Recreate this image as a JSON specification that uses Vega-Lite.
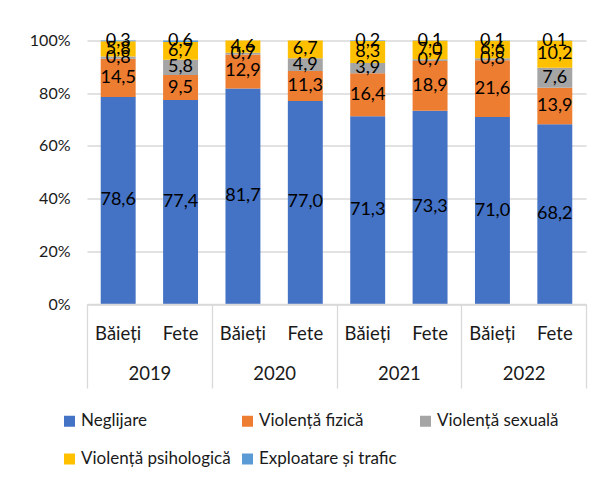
{
  "$schema": "https://vega.github.io/schema/vega-lite/v6.json",
  "autosize": {"type": "none"},
  "width": 499,
  "height": 263.5,
  "padding": {"left": 87, "top": 40.5, "right": 27, "bottom": 187},
  "background": "white",
  "config": {
    "font": "Lato",
    "view": {"stroke": null},
    "locale": {
      "number": {"decimal": ",", "thousands": ".", "grouping": [3], "currency": ["", " €"]}
    }
  },
  "data": {
    "values": [
      {"year": "2019", "gender": "Băieți", "cat": "Neglijare", "value": 78.6},
      {"year": "2019", "gender": "Băieți", "cat": "Violență fizică", "value": 14.5},
      {"year": "2019", "gender": "Băieți", "cat": "Violență sexuală", "value": 0.8},
      {"year": "2019", "gender": "Băieți", "cat": "Violență psihologică", "value": 5.8},
      {"year": "2019", "gender": "Băieți", "cat": "Exploatare și trafic", "value": 0.3},
      {"year": "2019", "gender": "Fete", "cat": "Neglijare", "value": 77.4},
      {"year": "2019", "gender": "Fete", "cat": "Violență fizică", "value": 9.5},
      {"year": "2019", "gender": "Fete", "cat": "Violență sexuală", "value": 5.8},
      {"year": "2019", "gender": "Fete", "cat": "Violență psihologică", "value": 6.7},
      {"year": "2019", "gender": "Fete", "cat": "Exploatare și trafic", "value": 0.6},
      {"year": "2020", "gender": "Băieți", "cat": "Neglijare", "value": 81.7},
      {"year": "2020", "gender": "Băieți", "cat": "Violență fizică", "value": 12.9},
      {"year": "2020", "gender": "Băieți", "cat": "Violență sexuală", "value": 0.7},
      {"year": "2020", "gender": "Băieți", "cat": "Violență psihologică", "value": 4.6},
      {"year": "2020", "gender": "Fete", "cat": "Neglijare", "value": 77.0},
      {"year": "2020", "gender": "Fete", "cat": "Violență fizică", "value": 11.3},
      {"year": "2020", "gender": "Fete", "cat": "Violență sexuală", "value": 4.9},
      {"year": "2020", "gender": "Fete", "cat": "Violență psihologică", "value": 6.7},
      {"year": "2021", "gender": "Băieți", "cat": "Neglijare", "value": 71.3},
      {"year": "2021", "gender": "Băieți", "cat": "Violență fizică", "value": 16.4},
      {"year": "2021", "gender": "Băieți", "cat": "Violență sexuală", "value": 3.9},
      {"year": "2021", "gender": "Băieți", "cat": "Violență psihologică", "value": 8.3},
      {"year": "2021", "gender": "Băieți", "cat": "Exploatare și trafic", "value": 0.2},
      {"year": "2021", "gender": "Fete", "cat": "Neglijare", "value": 73.3},
      {"year": "2021", "gender": "Fete", "cat": "Violență fizică", "value": 18.9},
      {"year": "2021", "gender": "Fete", "cat": "Violență sexuală", "value": 0.7},
      {"year": "2021", "gender": "Fete", "cat": "Violență psihologică", "value": 7.0},
      {"year": "2021", "gender": "Fete", "cat": "Exploatare și trafic", "value": 0.1},
      {"year": "2022", "gender": "Băieți", "cat": "Neglijare", "value": 71.0},
      {"year": "2022", "gender": "Băieți", "cat": "Violență fizică", "value": 21.6},
      {"year": "2022", "gender": "Băieți", "cat": "Violență sexuală", "value": 0.8},
      {"year": "2022", "gender": "Băieți", "cat": "Violență psihologică", "value": 6.6},
      {"year": "2022", "gender": "Băieți", "cat": "Exploatare și trafic", "value": 0.1},
      {"year": "2022", "gender": "Fete", "cat": "Neglijare", "value": 68.2},
      {"year": "2022", "gender": "Fete", "cat": "Violență fizică", "value": 13.9},
      {"year": "2022", "gender": "Fete", "cat": "Violență sexuală", "value": 7.6},
      {"year": "2022", "gender": "Fete", "cat": "Violență psihologică", "value": 10.2},
      {"year": "2022", "gender": "Fete", "cat": "Exploatare și trafic", "value": 0.1}
    ]
  },
  "transform": [
    {"calculate": "datum.year + '|' + datum.gender", "as": "grp"},
    {"calculate": "indexof(['Neglijare','Violență fizică','Violență sexuală','Violență psihologică','Exploatare și trafic'], datum.cat)", "as": "k"},
    {"stack": "value", "groupby": ["grp"], "sort": [{"field": "k", "order": "ascending"}], "offset": "normalize", "as": ["v0", "v1"]},
    {"calculate": "(datum.v0 + datum.v1) / 2", "as": "vmid"}
  ],
  "layer": [
    {
      "mark": {"type": "bar"},
      "encoding": {
        "x": {
          "field": "grp", "type": "nominal",
          "scale": {"paddingInner": 0.44, "paddingOuter": 0.22},
          "axis": {
            "orient": "bottom", "title": null, "domain": false, "ticks": false,
            "labelExpr": "split(datum.label, '|')[1]",
            "labelAngle": 0, "labelFontSize": 18.5, "labelColor": "#1a1a1a",
            "labelPadding": 20, "labelBaseline": "top"
          }
        },
        "y": {
          "field": "v0", "type": "quantitative",
          "scale": {"domain": [0, 1], "nice": false},
          "axis": {
            "title": null, "domain": false, "ticks": false,
            "values": [0, 0.2, 0.4, 0.6, 0.8, 1],
            "format": ".0%", "labelFontSize": 16, "labelColor": "#1a1a1a",
            "labelPadding": 17, "gridColor": "#d9d9d9", "gridWidth": 1.3
          }
        },
        "y2": {"field": "v1"},
        "color": {
          "field": "cat", "type": "nominal",
          "scale": {
            "domain": ["Neglijare", "Violență fizică", "Violență sexuală", "Violență psihologică", "Exploatare și trafic"],
            "range": ["#4472C4", "#ED7D31", "#A5A5A5", "#FFC000", "#5B9BD5"]
          },
          "legend": {
            "title": null, "orient": "none", "legendX": -26, "legendY": 372,
            "direction": "horizontal", "columns": 3, "gridAlign": "all",
            "columnPadding": 8, "rowPadding": 20,
            "symbolType": "square", "symbolSize": 121, "symbolStrokeWidth": 0,
            "labelFontSize": 17, "labelColor": "#1a1a1a", "labelOffset": 3,
            "labelLimit": 300
          }
        }
      }
    },
    {
      "mark": {"type": "text", "fontSize": 18, "color": "#000000", "baseline": "middle", "align": "center"},
      "encoding": {
        "x": {"field": "grp", "type": "nominal", "axis": null, "scale": {"paddingInner": 0.44, "paddingOuter": 0.22}},
        "y": {"field": "vmid", "type": "quantitative"},
        "text": {"field": "value", "type": "quantitative", "format": ".1f"}
      }
    },
    {
      "mark": {"type": "rect", "opacity": 0},
      "encoding": {
        "x": {
          "field": "year", "type": "nominal",
          "scale": {"paddingInner": 0, "paddingOuter": 0},
          "axis": {
            "orient": "bottom", "title": null, "domain": true, "domainColor": "#d9d9d9", "domainWidth": 1.3,
            "ticks": true, "tickBand": "extent", "tickSize": 84, "tickColor": "#d9d9d9", "tickWidth": 1.3,
            "labelAngle": 0, "labelFontSize": 18.5, "labelColor": "#1a1a1a",
            "labelPadding": -24, "labelBaseline": "top"
          }
        }
      }
    }
  ],
  "resolve": {"scale": {"x": "independent"}, "axis": {"x": "independent"}}
}
